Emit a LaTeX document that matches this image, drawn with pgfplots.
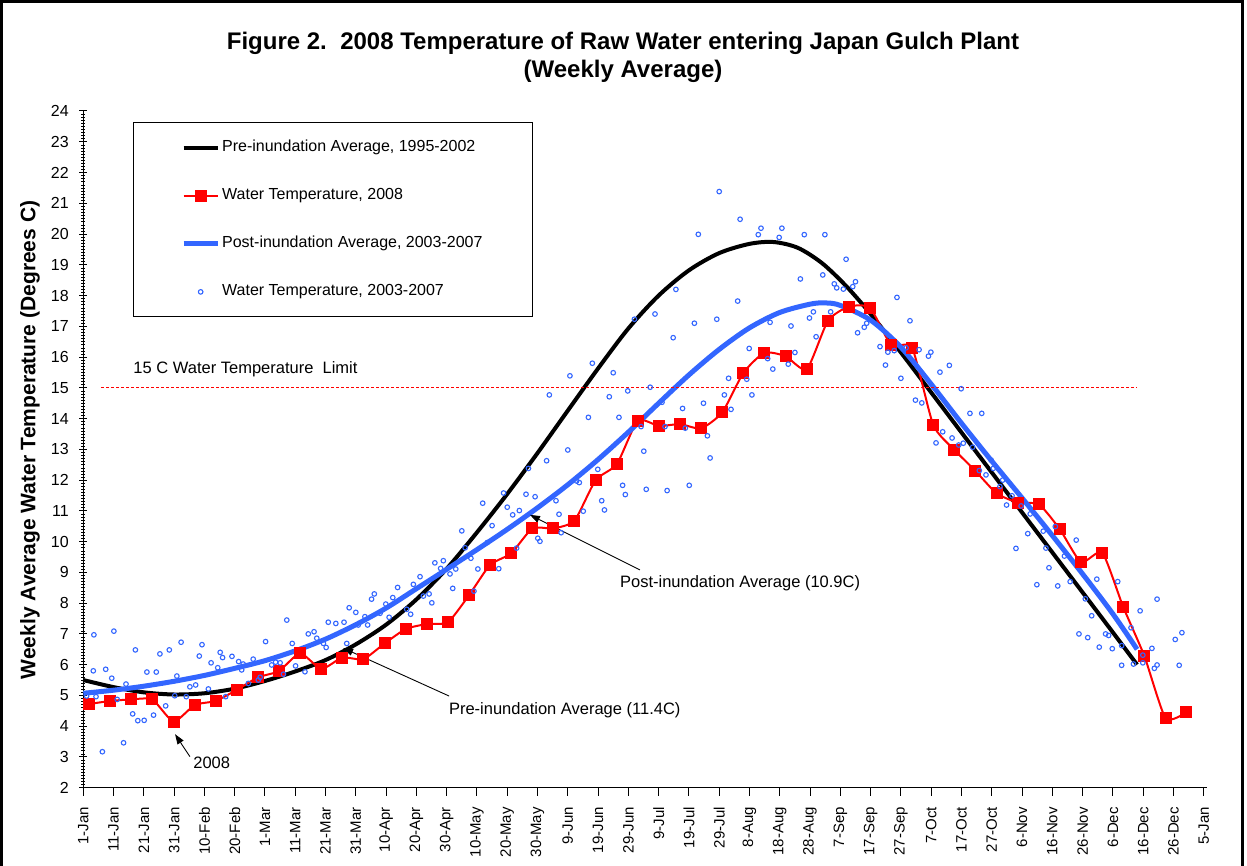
\documentclass[border=0pt]{standalone}
\usepackage{pgfplots}
\pgfplotsset{compat=1.18}
\usepackage{pgfplotstable}
\usepackage{fontspec}
\setmainfont{Liberation Sans}
\usetikzlibrary{arrows.meta}
\definecolor{pblue}{RGB}{51,102,255}
\definecolor{pred}{RGB}{255,0,0}

\pgfplotstableread{
day T
0 5.50
10 5.27
20 5.10
30 5.03
40 5.07
50 5.22
60 5.47
70 5.78
80 6.15
90 6.66
100 7.30
110 8.12
120 9.12
130 10.30
140 11.55
150 12.88
160 14.26
170 15.63
180 16.93
190 18.00
200 18.82
210 19.38
220 19.68
228 19.74
236 19.55
244 19.05
252 18.30
260 17.40
270 16.15
280 14.85
290 13.55
300 12.25
310 10.95
320 9.65
330 8.35
340 7.05
348 6.00
}\pretable

\pgfplotstableread{
day T
0 5.07
10 5.17
20 5.30
30 5.46
40 5.65
50 5.88
60 6.13
70 6.45
80 6.83
90 7.30
100 7.84
110 8.47
120 9.10
130 9.74
140 10.40
150 11.10
160 11.85
170 12.67
180 13.56
190 14.50
200 15.42
210 16.25
220 16.95
230 17.45
240 17.72
245 17.76
250 17.68
260 17.20
270 16.32
280 15.12
290 13.85
300 12.62
310 11.42
320 10.20
330 8.95
340 7.65
348 6.50
}\posttable

\pgfplotstableread{
day T
1.9 4.72
8.9 4.82
15.8 4.87
22.8 4.87
29.8 4.15
36.8 4.69
43.7 4.82
50.7 5.18
57.7 5.59
64.6 5.79
71.6 6.37
78.6 5.86
85.5 6.23
92.5 6.18
99.5 6.69
106.5 7.16
113.4 7.32
120.4 7.38
127.4 8.26
134.3 9.24
141.3 9.62
148.3 10.43
155.2 10.43
162.2 10.68
169.2 12.00
176.2 12.52
183.1 13.93
190.1 13.76
197.1 13.82
204.0 13.68
211.0 14.20
218.0 15.49
224.9 16.14
231.9 16.03
238.9 15.60
245.9 17.18
252.8 17.64
259.8 17.60
266.8 16.39
273.7 16.30
280.7 13.79
287.7 12.98
294.6 12.30
301.6 11.57
308.6 11.27
315.6 11.21
322.5 10.40
329.5 9.33
336.5 9.64
343.4 7.88
350.4 6.28
357.4 4.26
364.3 4.45
}\redtable

\pgfplotstableread{
day T
1.1 4.98
3.3 5.80
3.5 6.97
4.2 4.96
6.3 3.17
7.4 5.85
9.4 5.56
10.1 7.09
11.2 4.87
13.3 3.46
14.1 5.37
16.3 4.40
17.2 6.48
18.0 4.18
20.1 4.19
21.0 5.76
23.2 4.36
24.1 5.76
25.3 6.35
27.2 4.66
28.4 6.48
30.2 4.99
30.9 5.63
32.3 6.73
34.0 4.96
35.2 5.28
37.1 5.34
38.3 6.28
39.2 6.65
41.3 5.21
42.2 6.06
44.4 5.90
45.2 6.40
46.0 6.23
47.0 4.96
49.1 6.27
51.3 6.10
52.3 5.83
52.8 6.02
54.5 5.39
56.1 6.18
57.8 5.50
58.4 5.59
60.2 6.75
62.2 5.99
63.5 6.08
65.0 6.06
66.1 5.69
67.2 7.45
69.0 6.69
70.1 5.96
73.2 5.77
74.3 7.00
76.2 7.07
77.1 6.86
79.3 6.69
80.2 6.56
80.9 7.38
83.4 7.34
86.1 7.38
87.0 6.69
87.8 7.85
90.0 7.70
90.8 7.29
93.0 7.56
93.9 7.29
95.2 8.13
96.1 8.30
98.0 7.67
99.9 7.97
101.0 7.54
102.2 8.18
103.8 8.51
106.8 7.80
108.1 7.64
109.0 8.61
111.2 8.86
112.3 8.23
114.2 8.30
115.1 8.01
116.1 9.31
118.0 9.13
118.9 9.38
121.1 8.95
122.0 8.48
123.0 9.11
125.0 10.35
126.1 9.80
128.0 9.46
129.0 8.39
130.3 9.11
131.9 11.25
133.4 9.97
135.0 10.52
137.2 9.12
138.8 11.58
140.0 11.12
141.8 10.87
143.1 9.79
144.0 11.01
146.2 11.54
147.0 12.38
149.2 11.46
150.1 10.11
150.8 10.01
153.0 12.63
153.9 14.77
156.1 11.33
157.1 10.89
157.8 10.29
160.0 12.98
160.7 15.39
162.9 11.97
163.8 11.92
165.1 10.99
166.8 14.04
168.1 15.80
169.9 12.35
171.2 11.33
172.1 11.03
173.7 14.71
175.0 15.49
176.9 14.04
178.1 11.83
179.0 11.53
179.8 14.90
182.0 17.23
184.2 13.74
185.1 12.94
185.9 11.70
187.2 15.02
188.8 17.40
191.1 14.53
192.1 13.74
192.8 11.66
194.8 16.63
195.7 18.20
197.9 14.33
198.8 13.69
200.1 11.83
201.8 17.10
203.1 19.99
204.8 14.50
206.1 13.44
207.0 12.72
209.2 17.23
210.0 21.38
211.7 14.77
213.1 15.31
213.9 14.30
216.1 17.82
216.9 20.48
219.1 15.28
219.9 16.28
220.8 14.77
222.9 19.98
223.8 20.19
226.0 15.95
226.8 17.13
227.7 15.61
229.8 19.89
230.7 20.19
232.8 15.77
233.7 17.01
235.0 16.15
236.8 18.54
238.1 19.98
239.8 17.27
241.1 17.47
242.0 16.66
244.2 18.67
244.9 19.98
246.8 17.47
248.0 18.38
248.8 18.25
251.0 18.21
251.9 19.18
254.1 18.29
255.0 18.45
255.7 16.79
257.9 16.97
258.7 17.10
263.1 16.34
264.9 15.74
265.7 16.16
267.8 16.21
268.7 17.94
270.0 15.31
271.7 16.30
273.0 17.18
274.8 14.60
276.0 16.24
276.9 14.51
279.1 16.03
279.9 16.16
281.6 13.21
282.9 15.51
283.8 13.57
286.0 15.73
286.9 13.37
289.1 13.14
289.9 14.97
290.6 13.20
292.8 14.17
293.7 13.07
295.9 12.31
296.7 14.17
298.1 12.17
299.8 12.65
300.5 12.38
302.7 11.79
303.6 12.00
304.9 11.19
306.7 11.49
308.0 9.78
309.7 11.16
311.9 10.26
312.7 10.90
314.9 8.60
317.0 10.34
317.9 9.79
318.9 9.15
321.0 10.49
321.8 8.56
324.0 9.53
325.9 8.70
327.9 10.05
328.8 7.00
330.9 8.14
331.7 6.88
333.0 7.59
334.7 8.78
335.5 6.57
337.6 7.00
338.6 6.95
339.8 6.52
341.6 8.70
342.9 5.98
342.9 6.62
346.0 7.20
346.8 6.02
349.0 7.75
349.9 6.31
349.9 6.06
352.9 6.53
353.7 5.88
354.6 5.99
354.6 8.13
360.6 6.82
361.9 5.98
362.8 7.04
}\scattable

\begin{document}
\begin{tikzpicture}
\useasboundingbox (0pt,0pt) rectangle (1247pt,865pt);
\draw[line width=3pt] (1.5pt,-5pt) -- (1.5pt,863.5pt) -- (1242pt,863.5pt) -- (1242pt,-5pt);
\node[font=\bfseries\fontsize{24}{28}\selectfont, align=center] at (623pt,808pt)
  {Figure 2.\ \ 2008 Temperature of Raw Water entering Japan Gulch Plant\\(Weekly Average)};
\begin{axis}[
  at={(83.3pt,77.3pt)}, anchor=south west, scale only axis,
  width=1123.4pt, height=676.7pt,
  xmin=0, xmax=371, ymin=2, ymax=24,
  axis lines=left,
  axis line style={line width=1.2pt,-},
  xtick={0,10,...,370},
  xticklabels={1-Jan,11-Jan,21-Jan,31-Jan,10-Feb,20-Feb,1-Mar,11-Mar,21-Mar,31-Mar,10-Apr,20-Apr,30-Apr,10-May,20-May,30-May,9-Jun,19-Jun,29-Jun,9-Jul,19-Jul,29-Jul,8-Aug,18-Aug,28-Aug,7-Sep,17-Sep,27-Sep,7-Oct,17-Oct,27-Oct,6-Nov,16-Nov,26-Nov,6-Dec,16-Dec,26-Dec,5-Jan},
  xtick align=outside,
  ytick={2,3,...,24},
  minor y tick num=9,
  ytick align=center,
  major tick length=8pt, minor tick length=4pt,
  tick style={line width=1pt, black},
  minor tick style={line width=0.6pt},
  xticklabel style={yshift=-8pt, rotate=90, anchor=east, font=\fontsize{15}{18}\selectfont},
  yticklabel style={xshift=-7pt, font=\fontsize{16}{19}\selectfont},
  /pgf/number format/assume math mode=true,
  ylabel={Weekly Average Water Temperature (Degrees C)},
  ylabel style={at={(axis description cs:-0.0474,0.514)}, anchor=center, font=\bfseries\fontsize{21}{25}\selectfont},
  clip=false,
  legend image code/.code={\draw[mark repeat=2,mark phase=2,#1] plot coordinates {(0pt,0pt) (17pt,0pt) (34pt,0pt)};},
  legend cell align=left,
  legend style={at={(axis cs:16.3,23.63)}, anchor=north west, draw=black, line width=1pt,
    inner xsep=48pt, inner ysep=17pt, row sep=32pt,
    font=\fontsize{16}{19}\selectfont,
    nodes={inner xsep=2pt, inner ysep=0pt, text height=12pt, text depth=4pt}},
]
\addplot[black, line width=4pt, smooth] table[x=day,y=T] {\pretable};
\addlegendentry{Pre-inundation Average, 1995-2002}
\addplot[pred, line width=2pt, smooth, tension=0.35, mark=square*, mark size=5.5pt, mark options={solid, fill=pred, draw=pred, line width=0pt}] table[x=day,y=T] {\redtable};
\addlegendentry{Water Temperature, 2008}
\addplot[pblue, line width=5pt, smooth] table[x=day,y=T] {\posttable};
\addlegendentry{Post-inundation Average, 2003-2007}
\addplot[only marks, mark=o, mark size=2.3pt, mark options={draw=pblue, line width=1.1pt}] table[x=day,y=T] {\scattable};
\addlegendentry{Water Temperature, 2003-2007}
\addplot[pred, line width=1.3pt, dash pattern=on 3pt off 2pt, forget plot] coordinates {(6,15) (348,15)};
\node[anchor=west, font=\fontsize{16.5}{19}\selectfont] at (axis cs:15.4,15.61) {15 C Water Temperature\ \ Limit};
\draw[line width=0.9pt, -{Triangle[length=10pt,width=7pt]}] (axis cs:35.2,3.01) -- (axis cs:30.3,3.74);
\node[font=\fontsize{16.5}{19}\selectfont] at (axis cs:42.4,2.81) {2008};
\draw[line width=0.9pt, -{Triangle[length=10pt,width=7pt]}] (axis cs:120.8,4.98) -- (axis cs:85.8,6.54);
\node[font=\fontsize{16.5}{19}\selectfont] at (axis cs:159,4.53) {Pre-inundation Average (11.4C)};
\draw[line width=0.9pt, -{Triangle[length=10pt,width=7pt]}] (axis cs:183.8,9.08) -- (axis cs:147.5,10.87);
\node[font=\fontsize{16.5}{19}\selectfont] at (axis cs:216.9,8.66) {Post-inundation Average (10.9C)};
\end{axis}
\end{tikzpicture}
\end{document}
